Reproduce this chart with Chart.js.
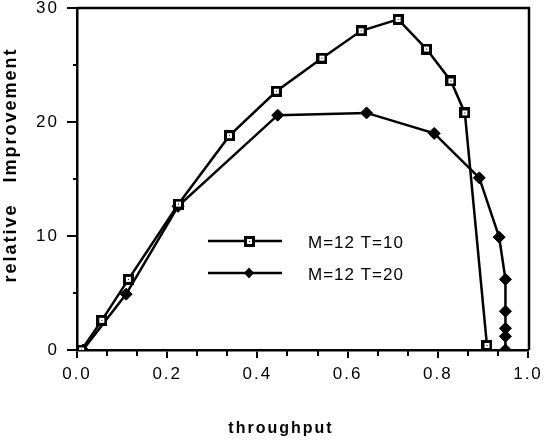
<!DOCTYPE html>
<html>
<head>
<meta charset="utf-8">
<script src="https://cdn.jsdelivr.net/npm/chart.js@4.4.1/dist/chart.umd.min.js"></script>
<style>
  html, body { margin: 0; padding: 0; background: #fff; }
  #wrap { width: 544px; height: 444px; }
</style>
</head>
<body>
<div id="wrap"><canvas id="c" width="544" height="444"></canvas></div>
<script>
// ---- data ----
const seriesLabels = ['M=12 T=10', 'M=12 T=20'];
const t10X = [0.010, 0.055, 0.114, 0.225, 0.338, 0.442, 0.543, 0.630, 0.712, 0.775, 0.829, 0.860, 0.909];
const t10Y = [0.0, 2.6, 6.2, 12.8, 18.8, 22.7, 25.6, 28.0, 29.0, 26.4, 23.6, 20.8, 0.4];
const t20X = [0.013, 0.109, 0.224, 0.445, 0.642, 0.792, 0.892, 0.936, 0.950, 0.950, 0.950, 0.950, 0.950];
const t20Y = [0.0, 4.9, 12.6, 20.6, 20.8, 19.0, 15.1, 9.9, 6.2, 3.4, 1.9, 1.2, 0.0];
const xTickValues = [0.0, 0.2, 0.4, 0.6, 0.8, 1.0];
const xMinorTicks = [0.0667, 0.1333, 0.2667, 0.3333, 0.4667, 0.5333, 0.6667, 0.7333, 0.8667, 0.9333];
const yTickValues = [0, 10, 20, 30];
const yMinorTicks = [5, 15, 25];
const xTitle = 'throughput';
const yTitle = '    relative   Improvement';

// ---- styles ----
const FONT = '"Liberation Sans", Arial, Helvetica, sans-serif';
const INK = '#000';
const LINE_W = 2.5;

function makeSquareMarker() {
  const c = document.createElement('canvas');
  c.width = 11; c.height = 11;
  const g = c.getContext('2d');
  g.fillStyle = INK; g.fillRect(0, 0, 11, 11);
  g.fillStyle = '#fff'; g.fillRect(3, 3, 5, 5);
  g.fillStyle = INK; g.fillRect(5, 5, 1, 1);
  return c;
}
const squareMarker = makeSquareMarker();

const toPoints = (xs, ys) => xs.map((x, i) => ({ x: x, y: ys[i] }));

const spacingPlugin = {
  id: 'spacing',
  beforeLayout(chart) { chart.ctx.letterSpacing = '2px'; },
  beforeDraw(chart) { chart.ctx.letterSpacing = '2px'; }
};

const framePlugin = {
  id: 'frame',
  beforeDatasetsDraw(chart) {
    const { ctx, chartArea: a, scales } = chart;
    ctx.save();
    ctx.strokeStyle = INK;
    ctx.lineWidth = LINE_W;
    ctx.beginPath();
    ctx.moveTo(a.left, a.top);
    ctx.lineTo(a.right + 1, a.top);
    ctx.lineTo(a.right + 1, a.bottom);
    ctx.stroke();
    // minor ticks
    ctx.lineWidth = 2;
    ctx.beginPath();
    xMinorTicks.forEach(v => {
      const px = Math.round(scales.x.getPixelForValue(v));
      ctx.moveTo(px, a.bottom);
      ctx.lineTo(px, a.bottom + 6);
    });
    yMinorTicks.forEach(v => {
      const py = Math.round(scales.y.getPixelForValue(v));
      ctx.moveTo(a.left, py);
      ctx.lineTo(a.left - 4, py);
    });
    ctx.stroke();
    ctx.restore();
  }
};

const legendLayout = { lineFrom: 131, lineTo: 205, marker: 172, text: 231, row0: 233, rowGap: 32 };
const legendPlugin = {
  id: 'inlineLegend',
  afterDatasetsDraw(chart) {
    const { ctx, chartArea: a } = chart;
    ctx.save();
    ctx.letterSpacing = '1px';
    chart.data.datasets.forEach((ds, i) => {
      const y = a.top + legendLayout.row0 + i * legendLayout.rowGap;
      ctx.strokeStyle = INK;
      ctx.lineWidth = LINE_W;
      ctx.beginPath();
      ctx.moveTo(a.left + legendLayout.lineFrom, y);
      ctx.lineTo(a.left + legendLayout.lineTo, y);
      ctx.stroke();
      const mx = a.left + legendLayout.marker;
      if (i === 0) {
        ctx.drawImage(squareMarker, Math.round(mx - 5.5), Math.round(y - 5.5));
      } else {
        ctx.fillStyle = INK;
        ctx.beginPath();
        ctx.moveTo(mx, y - 5.5); ctx.lineTo(mx + 5, y); ctx.lineTo(mx, y + 5.5); ctx.lineTo(mx - 5, y);
        ctx.closePath(); ctx.fill();
      }
      ctx.fillStyle = INK;
      ctx.font = '17px ' + FONT;
      ctx.textAlign = 'left';
      ctx.textBaseline = 'middle';
      ctx.fillText(ds.label, a.left + legendLayout.text, y + 2);
    });
    ctx.restore();
  }
};

new Chart(document.getElementById('c'), {
  type: 'scatter',
  data: {
    datasets: [
      {
        label: seriesLabels[0],
        data: toPoints(t10X, t10Y),
        showLine: true,
        borderColor: INK,
        borderWidth: LINE_W,
        pointStyle: squareMarker,
        pointRadius: 5.5,
        pointHoverRadius: 5.5,
        clip: 0
      },
      {
        label: seriesLabels[1],
        data: toPoints(t20X, t20Y),
        showLine: true,
        borderColor: INK,
        borderWidth: LINE_W,
        backgroundColor: INK,
        pointStyle: 'rectRot',
        pointRadius: 6,
        pointHoverRadius: 6,
        pointBackgroundColor: INK,
        pointBorderColor: INK,
        pointBorderWidth: 1,
        clip: 0
      }
    ]
  },
  options: {
    responsive: false,
    animation: false,
    devicePixelRatio: 1,
    layout: { padding: { left: 18, right: 0, top: 0, bottom: 0 } },
    plugins: {
      legend: { display: false },
      tooltip: { enabled: false },
      title: {
        display: true,
        position: 'bottom',
        text: xTitle,
        color: INK,
        font: { family: FONT, size: 16, weight: 'bold' },
        padding: { top: 0, bottom: 5.4 }
      }
    },
    scales: {
      x: {
        type: 'linear',
        min: 0, max: 1,
        afterBuildTicks: s => { s.ticks = xTickValues.map(v => ({ value: v })); },
        ticks: {
          callback: v => Number(v).toFixed(1),
          color: INK,
          font: { family: FONT, size: 17 },
          padding: 6,
          maxRotation: 0,
          autoSkip: false
        },
        grid: { drawOnChartArea: false, drawTicks: true, tickLength: 8, color: INK, lineWidth: 2 },
        border: { display: true, color: INK, width: LINE_W },
        afterFit: s => { s.height = 69.4; s.paddingLeft = 0; s.paddingRight = 16; }
      },
      y: {
        type: 'linear',
        min: 0, max: 30,
        afterBuildTicks: s => { s.ticks = yTickValues.map(v => ({ value: v })); },
        ticks: {
          color: INK,
          font: { family: FONT, size: 17 },
          padding: 8
        },
        grid: { drawOnChartArea: false, drawTicks: true, tickLength: 10, color: INK, lineWidth: 2 },
        border: { display: true, color: INK, width: LINE_W },
        title: {
          display: true,
          text: yTitle,
          color: INK,
          font: { family: FONT, size: 18, weight: 'bold' },
          padding: { top: -18, bottom: 0 }
        },
        afterFit: s => { s.width = 59; s.paddingTop = 6; s.paddingBottom = 0; }
      }
    }
  },
  plugins: [spacingPlugin, framePlugin, legendPlugin]
});
</script>
</body>
</html>
